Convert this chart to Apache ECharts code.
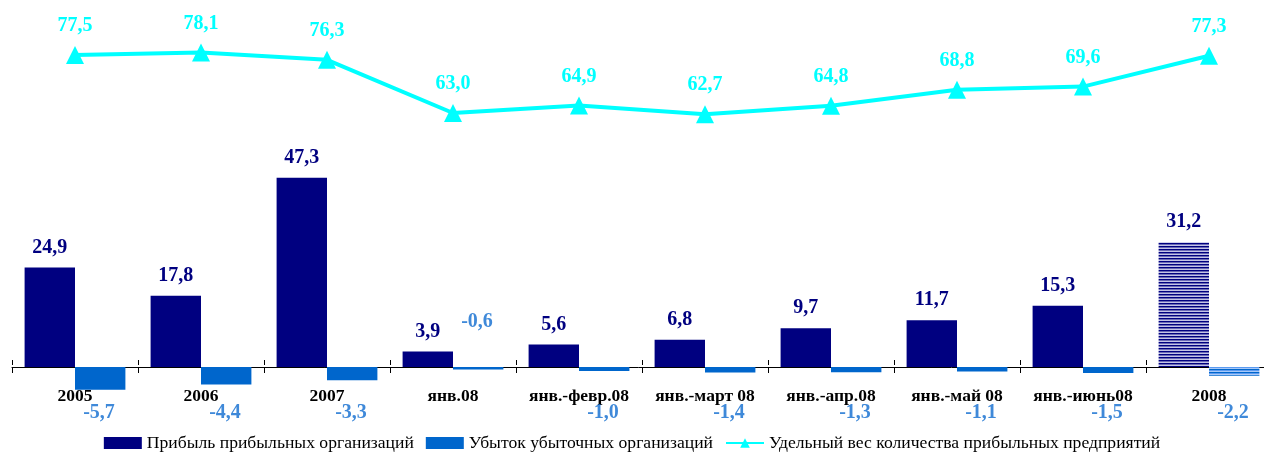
<!DOCTYPE html>
<html><head><meta charset="utf-8">
<script src="https://cdn.jsdelivr.net/npm/echarts@6/dist/echarts.min.js"></script>
<style>html,body{margin:0;padding:0;background:#fff}#c{width:1264px;height:452px}</style>
</head><body><div id="c"></div>
<script>
const categories = ['2005','2006','2007','янв.08','янв.-февр.08','янв.-март 08','янв.-апр.08','янв.-май 08','янв.-июнь08','2008'];
const profitValues = [24.9, 17.8, 47.3, 3.9, 5.6, 6.8, 9.7, 11.7, 15.3, 31.2];
const lossValues = [-5.7, -4.4, -3.3, -0.6, -1.0, -1.4, -1.3, -1.1, -1.5, -2.2];
const shareValues = [77.5, 78.1, 76.3, 63.0, 64.9, 62.7, 64.8, 68.8, 69.6, 77.3];
const seriesNames = ['Прибыль прибыльных организаций','Убыток убыточных организаций','Удельный вес количества прибыльных предприятий'];

function stripes(colors){
  const c = document.createElement('canvas');
  c.width = 4; c.height = colors.length;
  const g = c.getContext('2d');
  colors.forEach((col,i)=>{ g.fillStyle = col; g.fillRect(0,i,4,1); });
  return {image: c, repeat: 'repeat'};
}
const NAVY = '#000080', BLUE = '#0066CC', CYAN = '#00FFFF', LBLUE = '#0F6BD0';
const fmt = v => v.toFixed(1).replace('.', ',');
const serif = '"Liberation Serif","Times New Roman",serif';
const last = categories.length - 1;

const profitData = profitValues.map((v,i)=> i===last ? {value:v, itemStyle:{color: stripes([NAVY,'#6A6AB5','#C4C4E6'])}} : v);
const lossData = lossValues.map((v,i)=> i===last ? {value:v, itemStyle:{color: stripes([BLUE,'#5C9BF0','#A8C8F8'])}} : v);
const lossLabelLevel = -11.5, lossLabelAbove = 11.25;
const lossLabelData = lossValues.map((v,i)=> ({value: (v > -0.8 ? lossLabelAbove : lossLabelLevel), lbl: v}));

const chart = echarts.init(document.getElementById('c'), null, {renderer:'canvas'});
chart.setOption({
  animation: false,
  grid: {left: 12, width: 1260, top: 47, height: 320, containLabel: false, outerBoundsMode: 'none'},
  legend: {
    top: 429, left: 'center', itemWidth: 38, itemHeight: 12, itemGap: 12,
    data: [{name: seriesNames[0], icon: 'rect'}, {name: seriesNames[1], icon: 'rect'}, {name: seriesNames[2]}],
    textStyle: {fontFamily: serif, fontSize: 17.6, color: '#000'}
  },
  xAxis: [{
    type: 'category', data: categories, boundaryGap: true,
    axisLine: {onZero: true, lineStyle: {color: '#000', width: 1}},
    axisTick: {show: true, length: 6, lineStyle: {color: '#000'}},
    axisLabel: {margin: 20, fontFamily: serif, fontSize: 17.5, fontWeight: 'bold', color: '#000', interval: 0}
  },{
    type: 'category', data: categories, boundaryGap: true, position: 'top',
    axisLine: {onZero: true, show: false},
    axisTick: {show: true, length: 5, inside: false, lineStyle: {color: '#000'}},
    axisLabel: {show: false}
  }],
  yAxis: [
    {type: 'value', min: 0, max: 80, show: false, splitLine: {show: false}},
    {type: 'value', min: -0.5, max: 79.5, show: false, splitLine: {show: false}}
  ],
  series: [
    {
      name: seriesNames[0], type: 'bar', data: profitData, barGap: '0%', barCategoryGap: '20%', clip: false,
      itemStyle: {color: NAVY},
      label: {show: true, position: 'top', distance: 10, formatter: p => fmt(p.value),
              fontFamily: serif, fontSize: 20, fontWeight: 'bold', color: NAVY}
    },
    {
      name: seriesNames[1], type: 'bar', data: lossData, clip: false,
      itemStyle: {color: BLUE}
    },
    {
      name: seriesNames[2], type: 'line', yAxisIndex: 1, data: shareValues, clip: false,
      symbol: 'triangle', symbolSize: 18, showAllSymbol: true,
      lineStyle: {color: CYAN, width: 4}, itemStyle: {color: CYAN},
      label: {show: true, position: 'top', distance: 10, formatter: p => fmt(p.value),
              fontFamily: serif, fontSize: 20, fontWeight: 'bold', color: CYAN}
    },
    {
      name: 'lossLabels', type: 'scatter', data: lossLabelData, symbolSize: 0, silent: true, clip: false,
      label: {show: true, position: 'inside', formatter: p => fmt(p.data.lbl),
              fontFamily: serif, fontSize: 20, fontWeight: 'bold', color: LBLUE, offset: [24, 0]}
    }
  ]
});
</script></body></html>
